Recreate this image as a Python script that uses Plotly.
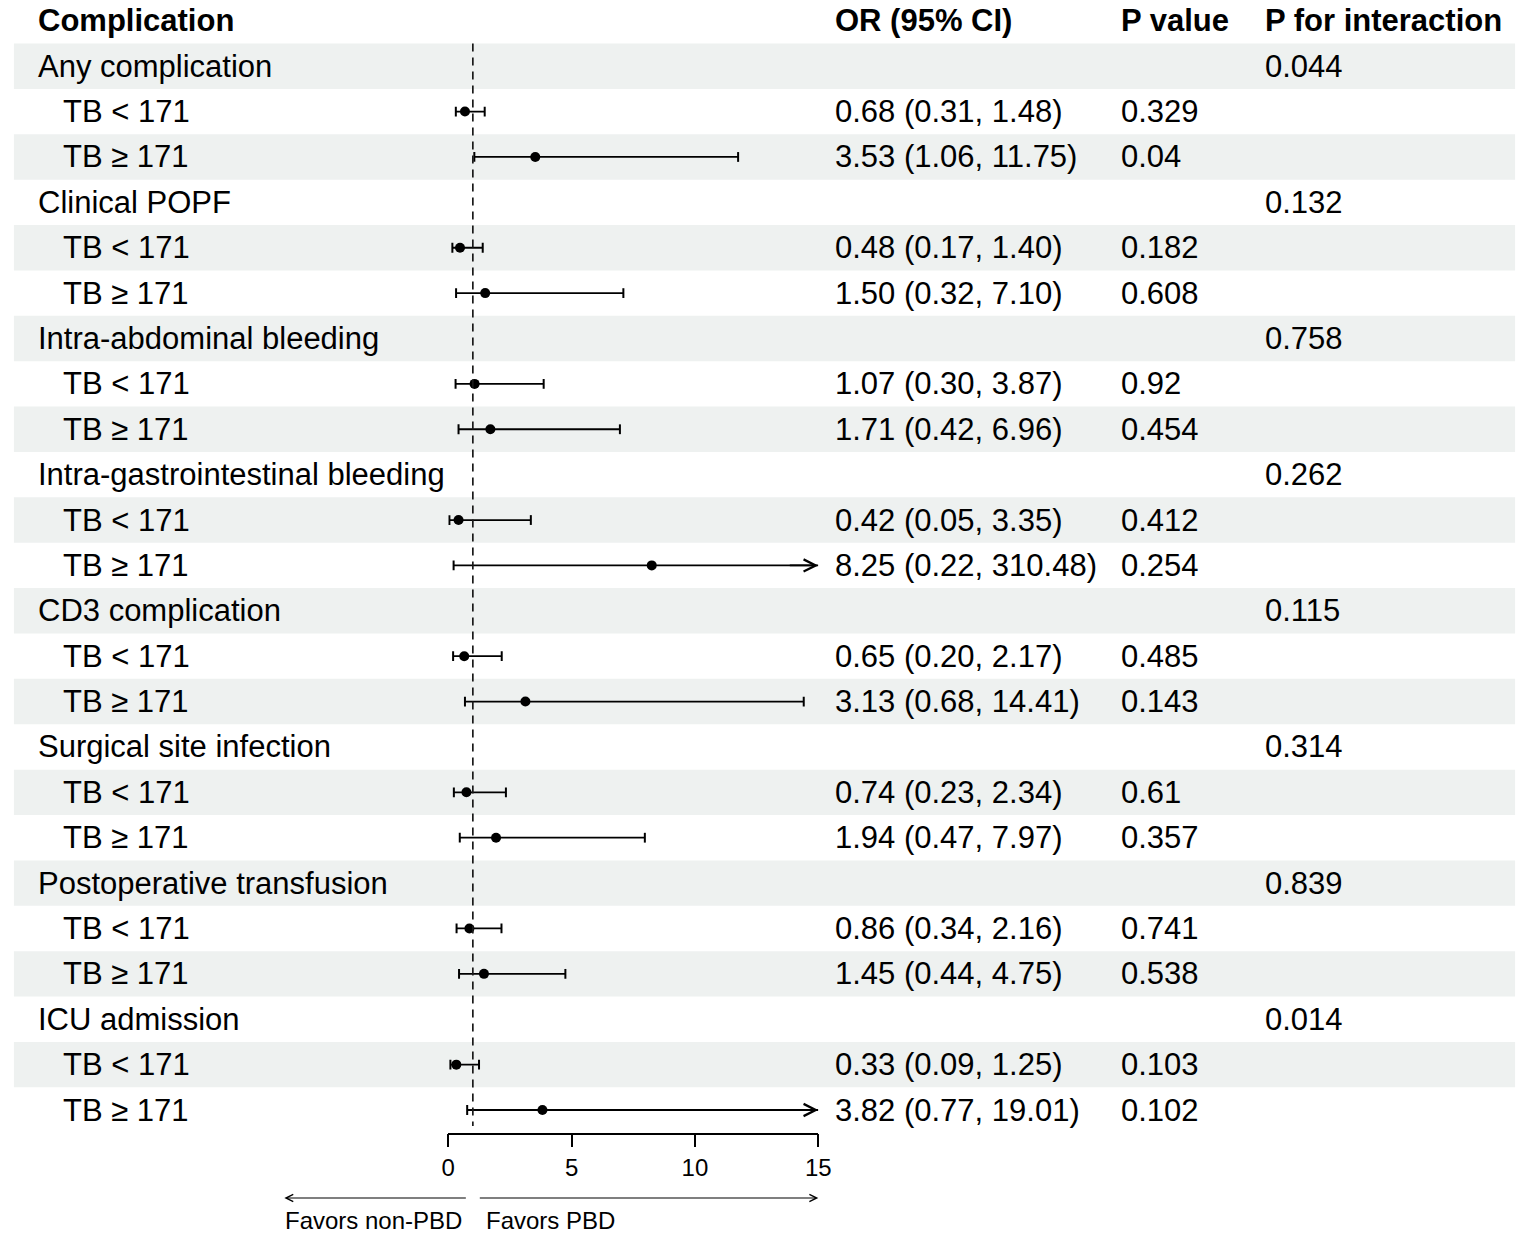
import plotly.graph_objects as go

# Table content
groups = [
    "Any complication", "Clinical POPF", "Intra-abdominal bleeding",
    "Intra-gastrointestinal bleeding", "CD3 complication",
    "Surgical site infection", "Postoperative transfusion", "ICU admission",
]
p_interaction = ["0.044", "0.132", "0.758", "0.262", "0.115", "0.314", "0.839", "0.014"]
subgroups = ["TB < 171", "TB \u2265 171"]

odds_ratio = [0.68, 3.53, 0.48, 1.50, 1.07, 1.71, 0.42, 8.25,
              0.65, 3.13, 0.74, 1.94, 0.86, 1.45, 0.33, 3.82]
ci_low = [0.31, 1.06, 0.17, 0.32, 0.30, 0.42, 0.05, 0.22,
          0.20, 0.68, 0.23, 0.47, 0.34, 0.44, 0.09, 0.77]
ci_high = [1.48, 11.75, 1.40, 7.10, 3.87, 6.96, 3.35, 310.48,
           2.17, 14.41, 2.34, 7.97, 2.16, 4.75, 1.25, 19.01]
p_values = ["0.329", "0.04", "0.182", "0.608", "0.92", "0.454", "0.412", "0.254",
            "0.485", "0.143", "0.61", "0.357", "0.741", "0.538", "0.103", "0.102"]

x_ticks = [0, 5, 10, 15]
x_max = 15
ref_line = 1

W, H = 1536, 1234
FONT = "Liberation Sans"
SHADE = "#eef1f0"
n_rows = len(groups) * 3

# pixel layout of the table rows
ROW_TOP = 43.5      # top of first data row
AXIS_Y = 1132.7     # x axis line (bottom of last row)
row_h = (AXIS_Y - ROW_TOP) / n_rows


def px(x):
    return x / W


def py(y):
    return (H - y) / H


fig = go.Figure()
shapes = []
annotations = []


def text_cell(x, y, txt, size=31, yref="y"):
    annotations.append(dict(x=px(x), xref="paper", y=y, yref=yref, text=txt,
                            showarrow=False, xanchor="left", yanchor="middle",
                            font=dict(size=size, family=FONT, color="black")))


# Headers
header_y = 0.5 - (ROW_TOP - 20) / row_h
for txt, xpos in [("Complication", 29), ("OR (95% CI)", 837),
                  ("P value", 1127), ("P for interaction", 1273)]:
    text_cell(xpos, header_y, f"<b>{txt}</b>")

seg_x, seg_y, cap_x, cap_y, pt_x, pt_y = [], [], [], [], [], []
for g, name in enumerate(groups):
    row = 3 * g + 1
    text_cell(29, row, name)
    text_cell(1273, row, p_interaction[g])
    for s, sub in enumerate(subgroups):
        k = 2 * g + s
        r = row + 1 + s
        o, lo, hi = odds_ratio[k], ci_low[k], ci_high[k]
        text_cell(55, r, sub)
        text_cell(837, r, f"{o:.2f} ({lo:.2f}, {hi:.2f})")
        text_cell(1127, r, p_values[k])
        seg_x += [lo, min(hi, x_max), None]
        seg_y += [r, r, None]
        cap_x.append(lo)
        cap_y.append(r)
        if hi <= x_max:
            cap_x.append(hi)
            cap_y.append(r)
        else:
            # CI runs past the axis limit -> arrow
            annotations.append(dict(x=x_max, y=r, xref="x", yref="y", ax=-30, ay=0,
                                    text="", showarrow=True, arrowhead=5,
                                    arrowsize=1.4, arrowwidth=1.7, arrowcolor="black"))
        pt_x.append(o)
        pt_y.append(r)

# alternating row shading
for r in range(1, n_rows + 1, 2):
    shapes.append(dict(type="rect", xref="paper", yref="y", x0=px(7), x1=px(1528),
                       y0=r - 0.5, y1=r + 0.5, fillcolor=SHADE, line_width=0,
                       layer="below"))

# reference line
shapes.append(dict(type="line", xref="x", yref="y", x0=ref_line, x1=ref_line,
                   y0=0.5, y1=n_rows + 0.35,
                   line=dict(color="#1a1a1a", width=1.7, dash="8px,6px")))

fig.add_trace(go.Scatter(x=seg_x, y=seg_y, mode="lines",
                         line=dict(color="black", width=1.8), hoverinfo="skip"))
fig.add_trace(go.Scatter(x=cap_x, y=cap_y, mode="markers",
                         marker=dict(symbol="line-ns", size=7,
                                     line=dict(width=2, color="black")),
                         hoverinfo="skip"))
fig.add_trace(go.Scatter(x=pt_x, y=pt_y, mode="markers",
                         marker=dict(symbol="circle", size=10, color="black")))

# favours arrows and labels
annotations.append(dict(x=px(281), xref="paper", y=py(1198), yref="paper",
                        ax=183, ay=0, text="", showarrow=True, arrowhead=5,
                        arrowsize=1.2, arrowwidth=1.2, arrowcolor="black"))
annotations.append(dict(x=x_max, xref="x", y=py(1198), yref="paper",
                        ax=-340, ay=0, text="", showarrow=True, arrowhead=5,
                        arrowsize=1.2, arrowwidth=1.2, arrowcolor="black"))
text_cell(280, py(1220), "Favors non-PBD", size=24, yref="paper")
text_cell(483, py(1220), "Favors PBD", size=24, yref="paper")

fig.update_layout(
    width=W, height=H, autosize=False,
    margin=dict(l=0, r=0, t=0, b=0),
    plot_bgcolor="white", paper_bgcolor="white",
    showlegend=False,
    shapes=shapes, annotations=annotations,
    font=dict(family=FONT, color="black"),
    xaxis=dict(domain=[447 / W, 822 / W], range=[0, x_max], tickvals=x_ticks,
               showline=True, linecolor="black", linewidth=1.5, ticks="outside",
               ticklen=13, tickwidth=1.5, tickcolor="black", showgrid=False,
               zeroline=False, tickfont=dict(size=24, family=FONT, color="black"),
               fixedrange=True),
    yaxis=dict(domain=[(H - AXIS_Y) / H, 1],
               range=[n_rows + 0.5, 0.5 - ROW_TOP / row_h],
               visible=False, fixedrange=True),
)

fig.write_html("out.html",
               config=dict(responsive=False, displayModeBar=False),
               post_script="document.body.style.margin='0px';"
                           "document.body.style.overflow='hidden';")
